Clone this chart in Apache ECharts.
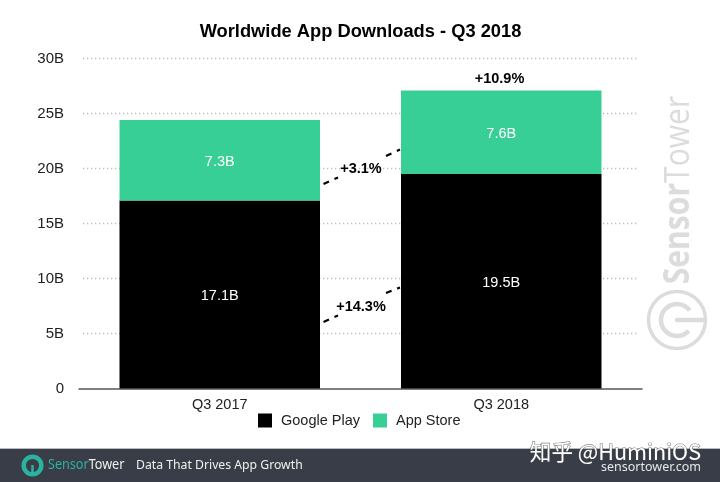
<!DOCTYPE html>
<html>
<head>
	<meta charset="utf-8">
	<script src="https://cdn.jsdelivr.net/npm/echarts@6/dist/echarts.min.js"></script>
	<style>html, body { margin: 0; background: #fff; }</style>
</head>
<body>
	<div id="main" style="width: 720px; height: 482px;"></div>
<script type="text/javascript">
var categories = ['Q3 2017', 'Q3 2018'];
var googlePlay = [17.1, 19.5];
var appStore = [7.3, 7.6];
var yTicks = [0, 5, 10, 15, 20, 25, 30];

var sans = '"Liberation Sans", Arial, sans-serif';
var teal = '#38cf97';
var grey = '#dcdcdc';
var logoTeal = '#2bb3a0';

var myChart = echarts.init(document.getElementById('main'));

// dashed connector between the two bars
function dash(x1, y1, x2, y2) {
	return {
		type: 'line',
		shape: { x1: x1, y1: y1, x2: x2, y2: y2 },
		style: { stroke: '#000', lineWidth: 2.2, lineDash: [6, 6] },
		z: 10
	};
}
function note(text, x, y) {
	return {
		type: 'text', x: x, y: y, z: 10,
		style: { text: text, fill: '#000', font: 'bold 14.5px ' + sans, align: 'center', verticalAlign: 'middle' }
	};
}

var barLabel = { show: true, position: 'inside', offset: [0, 2], color: '#fff', fontFamily: sans, fontSize: 14.5, formatter: '{c}B' };

var option = {
	backgroundColor: '#fff',
	animation: false,
	title: {
		text: 'Worldwide App Downloads - Q3 2018',
		left: 360.5, top: 23, padding: 0, textAlign: 'center',
		textStyle: { fontFamily: sans, fontWeight: 'bold', fontSize: 18.3, color: '#000' }
	},
	legend: {
		left: 258, top: 413, padding: 0,
		itemWidth: 14, itemHeight: 14, itemGap: 13,
		icon: 'rect',
		textStyle: { fontFamily: sans, fontSize: 14.5, color: '#222', padding: [0, 0, 0, 4] },
		data: ['Google Play', 'App Store']
	},
	grid: { left: 79, right: 78, top: 58.5, bottom: 93.5 },
	xAxis: {
		type: 'category',
		data: categories,
		axisTick: { show: false },
		axisLine: { lineStyle: { color: '#555', width: 1.5 } },
		axisLabel: { fontFamily: sans, fontSize: 14.5, color: '#222', margin: 9 }
	},
	yAxis: {
		type: 'value',
		min: yTicks[0], max: yTicks[yTicks.length - 1], interval: 5,
		axisLine: { show: false },
		axisTick: { show: false },
		axisLabel: {
			fontFamily: sans, fontSize: 15, color: '#222', margin: 15, padding: [2, 0, 0, 0],
			formatter: function (v) { return v === 0 ? '0' : v + 'B'; }
		},
		splitLine: { showMinLine: false, lineStyle: { color: '#bdbdbd', width: 1.3, type: [1.3, 2.7] } }
	},
	series: [
		{ name: 'Google Play', type: 'bar', stack: 'total', barWidth: 200.5, data: googlePlay, itemStyle: { color: '#000' }, label: barLabel },
		{ name: 'App Store', type: 'bar', stack: 'total', barWidth: 200.5, data: appStore, itemStyle: { color: teal }, label: barLabel }
	],
	graphic: [
		// trim the dotted lines a little short of the axis line ends
		{ type: 'rect', shape: { x: 77, y: 50, width: 6, height: 332 }, style: { fill: '#fff' }, z: 1 },
		{ type: 'rect', shape: { x: 637, y: 50, width: 7, height: 332 }, style: { fill: '#fff' }, z: 1 },

		// growth notes
		note('+10.9%', 499.5, 78.5),
		note('+3.1%', 361, 168.5),
		note('+14.3%', 361, 306.5),
		dash(323.5, 184, 338, 177.5),
		dash(386, 156, 400, 149.5),
		dash(323.5, 322, 338, 315.5),
		dash(386, 293, 400, 287.5),

		// watermark on the right
		{
			type: 'text', x: 679, y: 190, rotation: Math.PI / 2, scaleX: 0.86, z: 1,
			style: {
				text: '{a|Sensor}{b|Tower}', align: 'center', verticalAlign: 'middle',
				rich: {
					a: { font: 'bold 35px "Open Sans", sans-serif', fill: grey },
					b: { font: '35px "Open Sans", sans-serif', fill: grey }
				}
			}
		},
		{ type: 'circle', shape: { cx: 677, cy: 320, r: 28.5 }, style: { fill: 'none', stroke: grey, lineWidth: 3.5 }, z: 1 },
		{ type: 'arc', shape: { cx: 677, cy: 320, r: 16, startAngle: -0.65, endAngle: 0.75, clockwise: false }, style: { fill: 'none', stroke: grey, lineWidth: 4.5 }, z: 1 },
		{ type: 'line', shape: { x1: 677, y1: 320, x2: 704, y2: 320 }, style: { stroke: grey, lineWidth: 4.5, lineCap: 'round' }, z: 1 },

		// footer band
		{ type: 'rect', shape: { x: 0, y: 448, width: 720, height: 34 }, style: { fill: '#383d47' }, z: 1 },
		{ type: 'rect', shape: { x: 0, y: 448, width: 720, height: 1 }, style: { fill: '#b9bbbf' }, z: 1 },
		{ type: 'circle', shape: { cx: 32.5, cy: 465.5, r: 8.8 }, style: { fill: 'none', stroke: logoTeal, lineWidth: 4.5 }, z: 2 },
		{ type: 'line', shape: { x1: 32.5, y1: 465, x2: 32.5, y2: 476 }, style: { stroke: logoTeal, lineWidth: 2.5 }, z: 2 },
		{
			type: 'text', x: 48, y: 465.5, scaleX: 0.9, z: 2,
			style: {
				text: '{a|Sensor}{b|Tower}', verticalAlign: 'middle',
				rich: {
					a: { font: '14px "Noto Sans", sans-serif', fill: logoTeal },
					b: { font: '14px "Noto Sans", sans-serif', fill: '#f0f0f0' }
				}
			}
		},
		{
			type: 'text', x: 136, y: 465.5, scaleX: 0.94, z: 2,
			style: { text: 'Data That Drives App Growth', font: '13px "Noto Sans", sans-serif', fill: '#f0f0f0', verticalAlign: 'middle' }
		},
		{
			type: 'text', x: 701, y: 467, z: 2,
			style: { text: 'sensortower.com', font: '12.5px "Noto Sans", sans-serif', fill: '#e8e8e8', align: 'right', verticalAlign: 'middle' }
		},

		// reposted-by mark across the footer edge
		{
			type: 'text', x: 701, y: 452, z: 3,
			style: {
				text: '知乎 @HuminiOS', font: '21.6px "Noto Sans CJK SC", sans-serif', fill: '#fff',
				align: 'right', verticalAlign: 'middle',
				stroke: 'rgba(80,80,80,0.75)', lineWidth: 1.2, strokeFirst: true
			}
		}
	]
};

myChart.setOption(option);
</script>
</body>
</html>
